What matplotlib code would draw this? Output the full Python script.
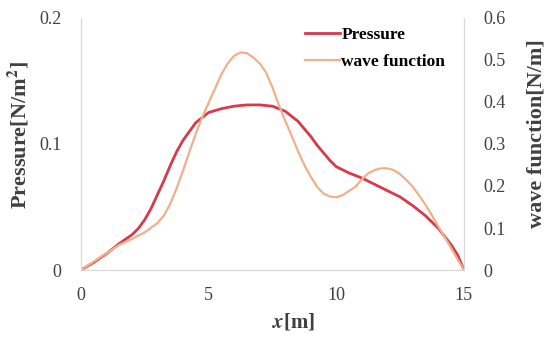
import matplotlib
matplotlib.use("Agg")
import matplotlib.pyplot as plt

# Data
pressure_x = [0, 0.5, 1, 1.5, 2, 2.25, 2.5, 2.75, 3, 3.25, 3.5, 3.75, 4, 4.5,
              5, 5.5, 6, 6.5, 7, 7.5, 8, 8.25, 8.5, 8.75, 9, 9.25, 9.5, 9.75,
              10, 10.5, 11, 11.5, 12, 12.5, 13, 13.5, 14, 14.5, 14.75, 15]
pressure = [0, 0.006, 0.013, 0.021, 0.028, 0.033, 0.040, 0.049, 0.060, 0.071,
            0.083, 0.094, 0.103, 0.117, 0.125, 0.128, 0.130, 0.131, 0.131,
            0.130, 0.126, 0.122, 0.118, 0.112, 0.106, 0.099, 0.093, 0.087,
            0.082, 0.077, 0.073, 0.068, 0.063, 0.058, 0.051, 0.043, 0.033,
            0.020, 0.012, 0]

wave_x = [0, 0.5, 1, 1.5, 2, 2.5, 3, 3.25, 3.5, 3.75, 4, 4.25, 4.5, 4.75, 5,
          5.25, 5.5, 5.75, 6, 6.25, 6.5, 6.75, 7, 7.25, 7.5, 7.75, 8, 8.25,
          8.5, 8.75, 9, 9.25, 9.5, 9.75, 10, 10.25, 10.5, 10.75, 11, 11.25,
          11.5, 11.75, 12, 12.25, 12.5, 12.75, 13, 13.25, 13.5, 13.75, 14,
          14.25, 14.5, 14.75, 15]
wave_function = [0, 0.020, 0.040, 0.060, 0.074, 0.090, 0.112, 0.130, 0.158,
                 0.195, 0.237, 0.282, 0.325, 0.364, 0.398, 0.432, 0.466, 0.492,
                 0.510, 0.518, 0.516, 0.506, 0.492, 0.470, 0.435, 0.393, 0.355,
                 0.320, 0.283, 0.250, 0.222, 0.198, 0.182, 0.175, 0.173, 0.178,
                 0.188, 0.198, 0.216, 0.230, 0.238, 0.242, 0.242, 0.238, 0.228,
                 0.214, 0.198, 0.177, 0.155, 0.130, 0.103, 0.078, 0.052, 0.026, 0]

x_ticks = [0, 5, 10, 15]
pressure_ticks = [0, 0.1, 0.2]
pressure_tick_labels = ["0", "0.1", "0.2"]
wave_ticks = [0, 0.1, 0.2, 0.3, 0.4, 0.5, 0.6]
wave_tick_labels = ["0", "0.1", "0.2", "0.3", "0.4", "0.5", "0.6"]

red = "#d63a4c"
orange = "#f0b08a"
grey_text = "#404040"
spine_color = "#d9d9d9"

plt.rcParams["font.family"] = "Liberation Serif"
plt.rcParams["mathtext.fontset"] = "stix"

fig = plt.figure(figsize=(5.49, 3.39), dpi=100)
ax = fig.add_axes([0.1475, 0.2035, 0.6975, 0.7435])
ax2 = ax.twinx()

line1, = ax.plot(pressure_x, pressure, color=red, linewidth=2.0,
                 label="Pressure")
line2, = ax2.plot(wave_x, wave_function, color=orange, linewidth=1.6,
                  label="wave function")

ax.set_xlim(0, 15)
ax.set_ylim(0, 0.2)
ax2.set_ylim(0, 0.6)

ax.set_xticks(x_ticks)
ax.set_yticks(pressure_ticks)
ax.set_yticklabels(pressure_tick_labels)
ax2.set_yticks(wave_ticks)
ax2.set_yticklabels(wave_tick_labels)

for a in (ax, ax2):
    a.tick_params(length=0, labelsize=13, colors=grey_text)
    a.spines["top"].set_visible(False)
    for side in ["left", "right", "bottom"]:
        a.spines[side].set_color(spine_color)
        a.spines[side].set_linewidth(0.8)

ax.tick_params(axis="y", pad=14)
ax2.tick_params(axis="y", pad=14)
ax.tick_params(axis="x", pad=12)

ax.set_ylabel("Pressure[N/m$^\\mathbf{2}$]", fontsize=16,
              fontweight="bold", color=grey_text)
ax.yaxis.set_label_coords(-0.128, 0.535)

ax2.set_ylabel("wave function[N/m]", fontsize=16, fontweight="bold",
               color=grey_text, rotation=90)
ax2.yaxis.set_label_coords(1.164, 0.54)

ax.set_xlabel("$\\mathbfit{x}$[m]", fontsize=15, fontweight="bold",
              color=grey_text)
ax.xaxis.set_label_coords(0.556, -0.165)

ax.legend(handles=[line1, line2], loc="upper right",
          bbox_to_anchor=(0.965, 0.985), frameon=False, borderaxespad=0,
          borderpad=0.3, handlelength=2.0, handletextpad=0.1,
          labelspacing=0.6, prop={"weight": "bold", "size": 12.5})

fig.savefig("out.png", dpi=100)
